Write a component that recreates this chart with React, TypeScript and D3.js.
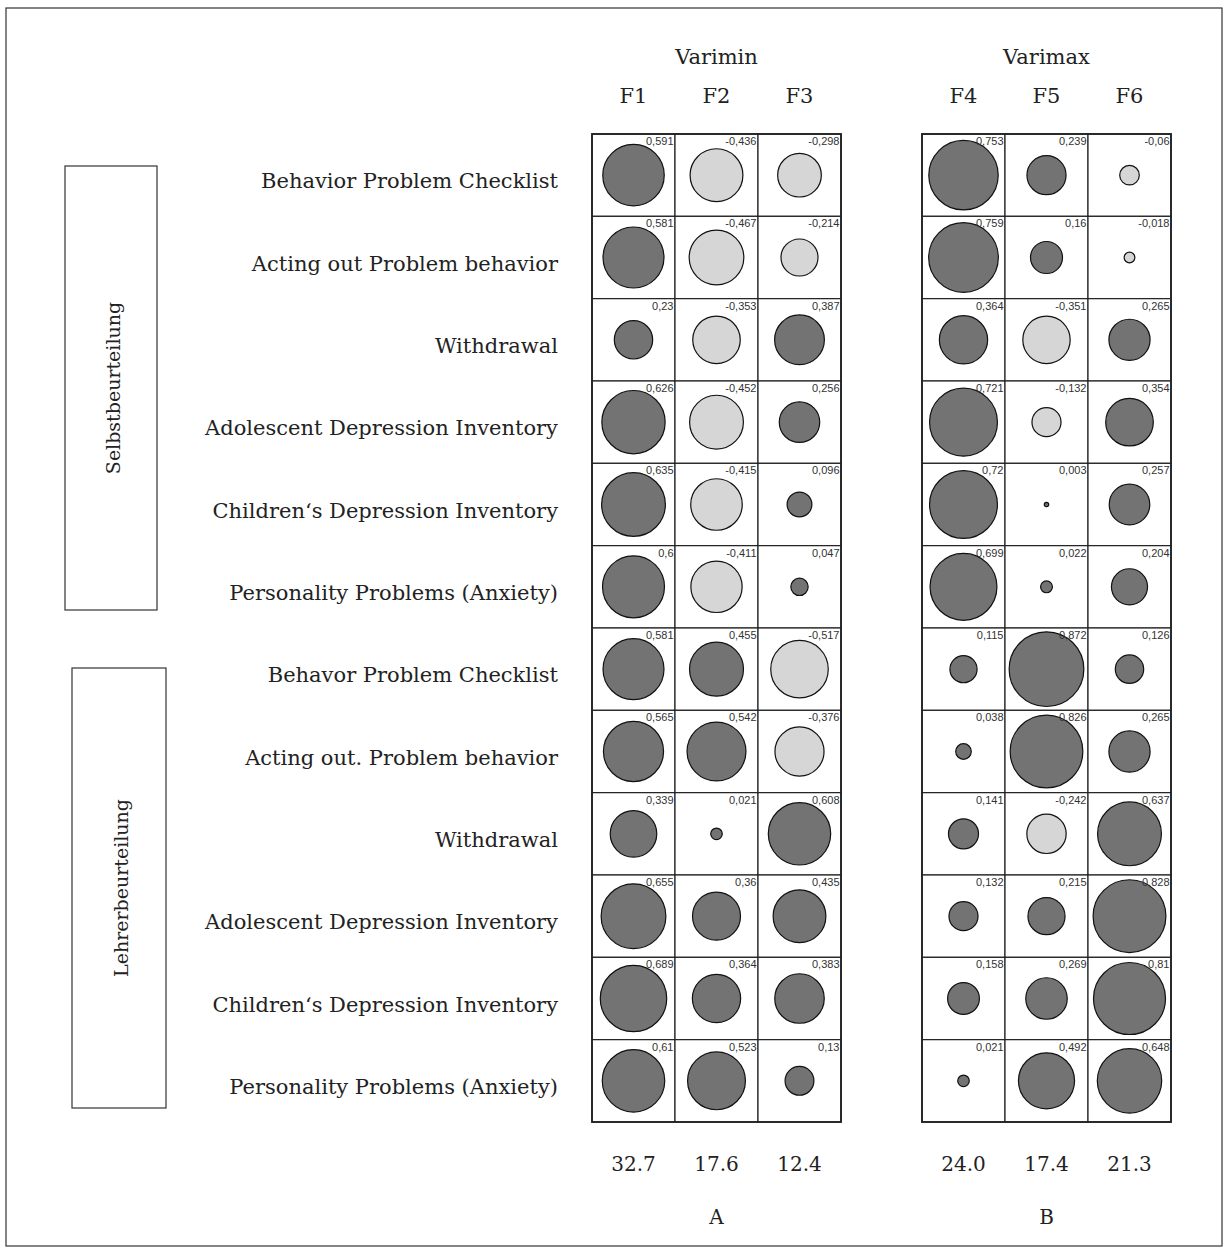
import React from "react";
import * as d3 from "d3";

// Scale names (rows) and rater groups
const rowLabels = [
  "Behavior Problem Checklist",
  "Acting out Problem behavior",
  "Withdrawal",
  "Adolescent Depression Inventory",
  "Children‘s Depression Inventory",
  "Personality Problems (Anxiety)",
  "Behavor Problem Checklist",
  "Acting out. Problem behavior",
  "Withdrawal",
  "Adolescent Depression Inventory",
  "Children‘s Depression Inventory",
  "Personality Problems (Anxiety)",
];
const groupLabels = ["Selbstbeurteilung", "Lehrerbeurteilung"];

// Varimin solution
const variminFactors = ["F1", "F2", "F3"];
const f1 = [0.591, 0.581, 0.23, 0.626, 0.635, 0.6, 0.581, 0.565, 0.339, 0.655, 0.689, 0.61];
const f2 = [-0.436, -0.467, -0.353, -0.452, -0.415, -0.411, 0.455, 0.542, 0.021, 0.36, 0.364, 0.523];
const f3 = [-0.298, -0.214, 0.387, 0.256, 0.096, 0.047, -0.517, -0.376, 0.608, 0.435, 0.383, 0.13];
const variminVariance = ["32.7", "17.6", "12.4"];

// Varimax solution
const varimaxFactors = ["F4", "F5", "F6"];
const f4 = [0.753, 0.759, 0.364, 0.721, 0.72, 0.699, 0.115, 0.038, 0.141, 0.132, 0.158, 0.021];
const f5 = [0.239, 0.16, -0.351, -0.132, 0.003, 0.022, 0.872, 0.826, -0.242, 0.215, 0.269, 0.492];
const f6 = [-0.06, -0.018, 0.265, 0.354, 0.257, 0.204, 0.126, 0.265, 0.637, 0.828, 0.81, 0.648];
const varimaxVariance = ["24.0", "17.4", "21.3"];

const panels = [
  { title: "Varimin", letter: "A", factors: variminFactors, columns: [f1, f2, f3], variance: variminVariance, x0: 592 },
  { title: "Varimax", letter: "B", factors: varimaxFactors, columns: [f4, f5, f6], variance: varimaxVariance, x0: 922 },
];

const W = 1229;
const H = 1253;
const SERIF = "'DejaVu Serif', serif";
const SANS = "'Liberation Sans', Arial, sans-serif";
const FS = 21;

const cellW = 83;
const top = 134;
const bottom = 1122;

const yBand = d3
  .scaleBand<number>()
  .domain(d3.range(rowLabels.length))
  .range([top, bottom])
  .padding(0);

const rScale = d3.scaleSqrt().domain([0, 1]).range([0, 40]);

const fmt = (v: number) => String(v).replace(".", ",");

function Panel({ p }: { p: (typeof panels)[number] }) {
  const xBand = d3
    .scaleBand<number>()
    .domain(d3.range(p.factors.length))
    .range([p.x0, p.x0 + cellW * p.factors.length])
    .padding(0);
  const cx = (p.x0 + p.x0 + cellW * p.factors.length) / 2;
  const rh = yBand.bandwidth();
  const cw = xBand.bandwidth();
  return (
    <g>
      <text x={cx} y={64} textAnchor="middle" fontFamily={SERIF} fontSize={FS} fill="#222">
        {p.title}
      </text>
      {p.factors.map((f, j) => (
        <text key={f} x={xBand(j)! + cw / 2} y={103} textAnchor="middle" fontFamily={SERIF} fontSize={FS} fill="#222">
          {f}
        </text>
      ))}
      {p.columns.map((col, j) =>
        col.map((v, i) => {
          const x = xBand(j)!;
          const y = yBand(i)!;
          return (
            <g key={`${j}-${i}`}>
              <rect x={x} y={y} width={cw} height={rh} fill="#fff" stroke="#222" strokeWidth={1.2} />
              <circle
                cx={x + cw / 2}
                cy={y + rh / 2}
                r={rScale(Math.abs(v))}
                fill={v >= 0 ? "#737373" : "#d6d6d6"}
                stroke="#111"
                strokeWidth={1.2}
              />
              <text x={x + cw - 1.5} y={y + 11} textAnchor="end" fontFamily={SANS} fontSize={11} fill="#333">
                {fmt(v)}
              </text>
            </g>
          );
        })
      )}
      <rect
        x={p.x0}
        y={top}
        width={cw * p.factors.length}
        height={bottom - top}
        fill="none"
        stroke="#222"
        strokeWidth={1.8}
      />
      {p.variance.map((s, j) => (
        <text key={s} x={xBand(j)! + cw / 2} y={1171} textAnchor="middle" fontFamily={SERIF} fontSize={20} fill="#222">
          {s}
        </text>
      ))}
      <text x={cx} y={1224} textAnchor="middle" fontFamily={SERIF} fontSize={20} fill="#222">
        {p.letter}
      </text>
    </g>
  );
}

export default function App() {
  const groups = [
    { label: groupLabels[0], x: 65, y: 166, w: 92, h: 444 },
    { label: groupLabels[1], x: 72, y: 668, w: 94, h: 440 },
  ];
  return (
    <svg width={W} height={H} style={{ display: "block", position: "absolute", left: 0, top: 0 }}>
      <rect x={0} y={0} width={W} height={H} fill="#fff" />
      <rect x={6} y={8} width={1216} height={1238} fill="none" stroke="#333" strokeWidth={1.2} />
      {groups.map((g) => (
        <g key={g.label}>
          <rect x={g.x} y={g.y} width={g.w} height={g.h} fill="none" stroke="#333" strokeWidth={1.2} />
          <text
            transform={`translate(${g.x + g.w / 2 + 9},${g.y + g.h / 2}) rotate(-90)`}
            textAnchor="middle"
            fontFamily={SERIF}
            fontSize={19}
            fill="#222"
          >
            {g.label}
          </text>
        </g>
      ))}
      {rowLabels.map((l, i) => (
        <text
          key={i}
          x={558}
          y={yBand(i)! + yBand.bandwidth() / 2 + 13}
          textAnchor="end"
          fontFamily={SERIF}
          fontSize={FS}
          fill="#222"
        >
          {l}
        </text>
      ))}
      {panels.map((p) => (
        <Panel key={p.title} p={p} />
      ))}
    </svg>
  );
}
